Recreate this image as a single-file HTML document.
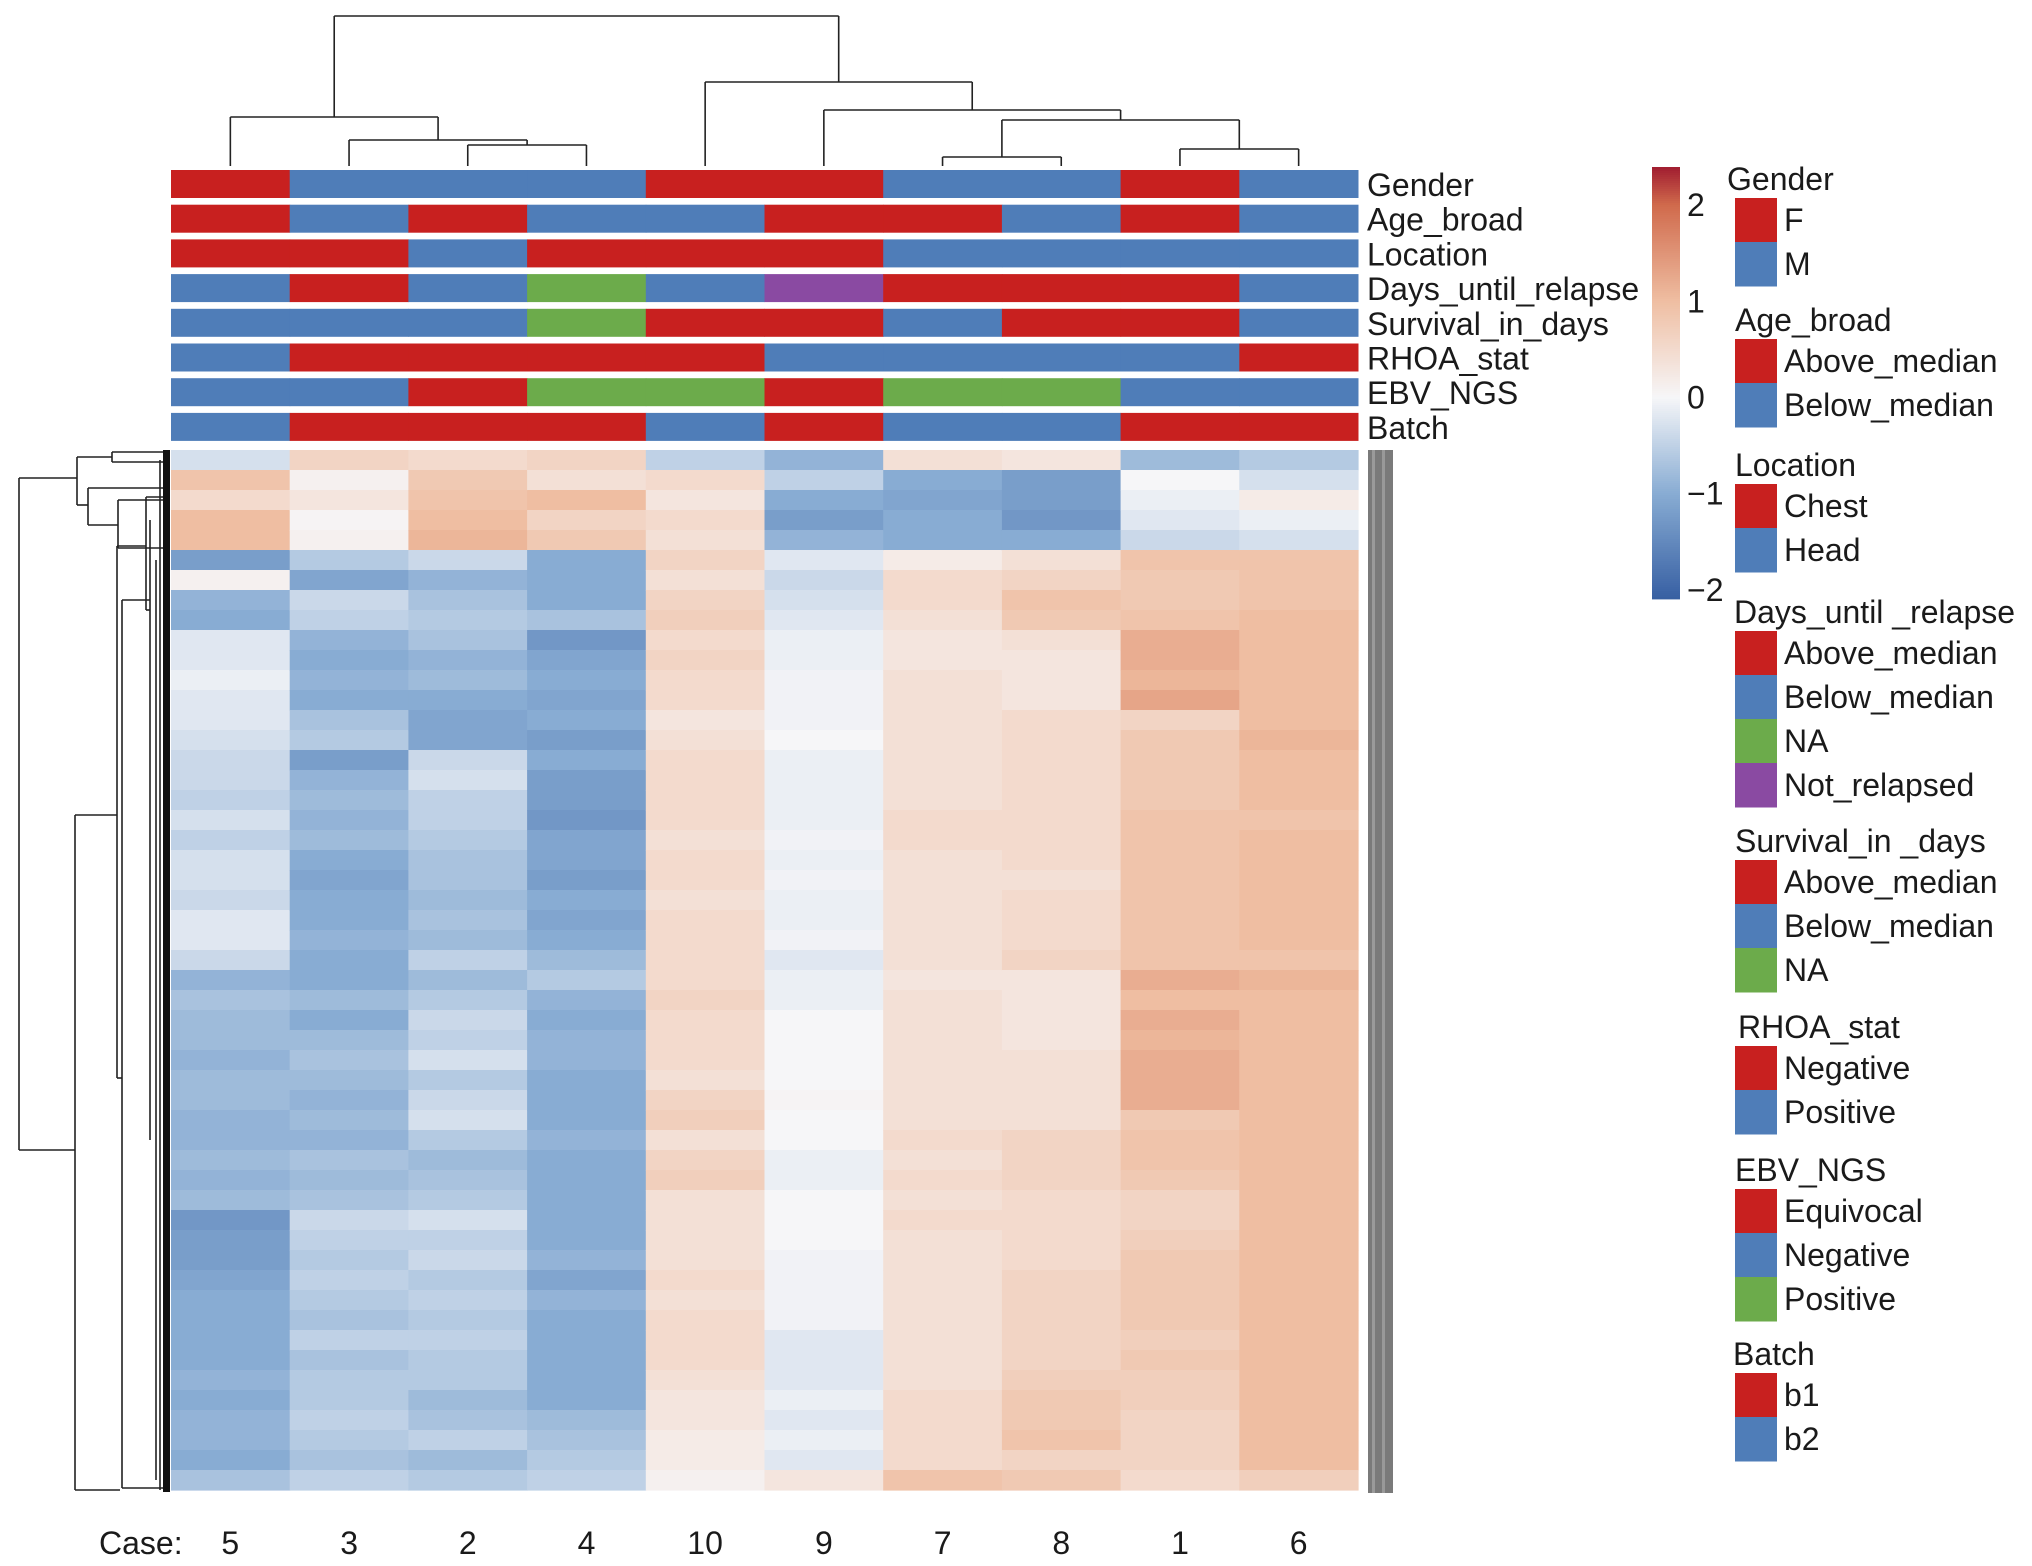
<!DOCTYPE html>
<html><head><meta charset="utf-8"><title>Clustered heatmap</title>
<style>
html,body{margin:0;padding:0;background:#fff;}
svg{display:block;}
text{font-family:"Liberation Sans",Arial,sans-serif;fill:#1a1a1a;}
</style></head>
<body>
<svg id="chart" width="2032" height="1566" viewBox="0 0 2032 1566" xmlns="http://www.w3.org/2000/svg">
<rect width="2032" height="1566" fill="#fff"/>
<g id="top-dendro"></g>
<g id="row-dendro"></g>
<g id="annot"></g>
<g id="heat"></g>
<g id="rowstrip"></g>
<g id="xlabels"></g>
<g id="cbar"></g>
<g id="legend"></g>
</svg>
<script>
// ---------- data ----------
const cases = ["5","3","2","4","10","9","7","8","1","6"];
const annotNames = ["Gender","Age_broad","Location","Days_until_relapse","Survival_in_days","RHOA_stat","EBV_NGS","Batch"];
const annGender   = ["R","B","B","B","R","R","B","B","R","B"];
const annAge      = ["R","B","R","B","B","R","R","B","R","B"];
const annLocation = ["R","R","B","R","R","R","B","B","B","B"];
const annDays     = ["B","R","B","G","B","P","R","R","R","B"];
const annSurvival = ["B","B","B","G","R","R","B","R","R","B"];
const annRhoa     = ["B","R","R","R","R","B","B","B","B","R"];
const annEbv      = ["B","B","R","G","G","R","G","G","B","B"];
const annBatch    = ["B","R","R","R","B","R","B","B","R","R"];
// expression values: one array per case (row blocks top to bottom)
const v5  = [-0.3,0.9,0.5,1.0,1.0,-1.2,0.1,-0.9,-1.0,-0.2,-0.2,-0.1,-0.2,-0.2,-0.3,-0.4,-0.4,-0.5,-0.3,-0.5,-0.3,-0.3,-0.4,-0.2,-0.2,-0.4,-0.9,-0.7,-0.8,-0.8,-0.9,-0.8,-0.8,-0.9,-0.9,-0.8,-0.9,-0.8,-1.3,-1.2,-1.2,-1.1,-1.0,-1.0,-1.0,-1.0,-0.9,-1.0,-0.9,-0.9,-1.0,-0.7];
const v3  = [0.6,0.1,0.3,0.05,0.1,-0.6,-1.1,-0.4,-0.5,-0.9,-1.0,-0.9,-1.0,-0.7,-0.6,-1.2,-0.9,-0.8,-0.9,-0.8,-1.0,-1.1,-1.0,-1.0,-0.9,-1.0,-1.0,-0.8,-1.0,-0.8,-0.7,-0.8,-0.9,-0.8,-0.9,-0.7,-0.8,-0.7,-0.4,-0.5,-0.6,-0.5,-0.6,-0.7,-0.5,-0.7,-0.6,-0.6,-0.5,-0.6,-0.7,-0.5];
const v2  = [0.5,0.8,0.9,1.0,1.1,-0.4,-0.9,-0.7,-0.6,-0.7,-0.9,-0.8,-1.0,-1.1,-1.1,-0.4,-0.3,-0.5,-0.5,-0.6,-0.7,-0.7,-0.8,-0.7,-0.8,-0.5,-0.8,-0.6,-0.4,-0.5,-0.3,-0.6,-0.4,-0.3,-0.6,-0.8,-0.7,-0.6,-0.3,-0.5,-0.4,-0.6,-0.5,-0.6,-0.5,-0.6,-0.6,-0.8,-0.7,-0.5,-0.8,-0.6];
const v4  = [0.6,0.4,1.0,0.6,0.8,-1.0,-1.0,-1.0,-0.7,-1.3,-1.1,-1.0,-1.1,-1.0,-1.2,-1.0,-1.2,-1.2,-1.3,-1.1,-1.1,-1.2,-1.0,-1.1,-1.0,-0.8,-0.6,-0.9,-1.0,-0.9,-0.9,-1.0,-1.0,-1.0,-0.9,-1.0,-1.0,-1.0,-1.0,-1.0,-0.9,-1.1,-0.9,-1.0,-1.0,-1.0,-1.0,-1.0,-0.8,-0.7,-0.6,-0.5];
const v10 = [-0.5,0.5,0.3,0.5,0.4,0.6,0.4,0.6,0.7,0.5,0.6,0.5,0.5,0.3,0.4,0.5,0.5,0.5,0.5,0.4,0.5,0.5,0.4,0.5,0.5,0.5,0.5,0.6,0.5,0.5,0.5,0.4,0.6,0.7,0.4,0.6,0.7,0.4,0.4,0.4,0.4,0.5,0.4,0.5,0.5,0.5,0.4,0.3,0.3,0.2,0.2,0.1];
const v9  = [-0.9,-0.5,-1.0,-1.2,-0.9,-0.2,-0.4,-0.3,-0.2,-0.1,-0.1,-0.05,-0.05,-0.05,0.0,-0.1,-0.1,-0.1,-0.1,-0.05,-0.1,-0.05,-0.1,-0.1,-0.05,-0.2,-0.1,-0.1,0.0,0.0,0.0,0.0,0.05,0.0,0.0,-0.1,-0.1,0.0,0.0,0.0,-0.05,-0.05,-0.05,-0.05,-0.2,-0.2,-0.2,-0.1,-0.2,-0.1,-0.2,0.3];
const v7  = [0.4,-1.0,-1.1,-1.0,-1.0,0.2,0.5,0.5,0.4,0.3,0.3,0.4,0.4,0.4,0.4,0.4,0.4,0.4,0.5,0.5,0.4,0.4,0.4,0.4,0.4,0.4,0.3,0.4,0.4,0.4,0.4,0.4,0.4,0.4,0.5,0.4,0.5,0.4,0.5,0.4,0.4,0.4,0.4,0.4,0.4,0.4,0.4,0.5,0.5,0.5,0.5,0.9];
const v8  = [0.3,-1.2,-1.2,-1.3,-1.0,0.4,0.6,0.9,0.8,0.4,0.3,0.3,0.3,0.5,0.5,0.5,0.5,0.5,0.5,0.5,0.5,0.4,0.5,0.5,0.5,0.6,0.3,0.3,0.3,0.3,0.4,0.4,0.4,0.4,0.6,0.6,0.6,0.5,0.5,0.5,0.5,0.6,0.6,0.6,0.6,0.6,0.7,0.8,0.8,0.9,0.6,0.8];
const v1  = [-0.8,0.0,-0.1,-0.2,-0.4,0.9,0.8,0.8,0.9,1.2,1.2,1.1,1.3,0.6,0.8,0.8,0.8,0.8,0.9,0.9,0.9,0.9,0.9,0.9,0.9,0.9,1.2,1.0,1.2,1.1,1.2,1.2,1.2,0.8,0.9,0.9,0.8,0.6,0.6,0.7,0.8,0.8,0.8,0.8,0.7,0.8,0.7,0.7,0.6,0.6,0.6,0.5];
const v6  = [-0.6,-0.3,0.2,-0.1,-0.3,0.9,0.9,0.9,1.0,1.0,1.0,1.0,1.0,1.0,1.1,1.0,1.0,1.0,0.9,1.0,1.0,1.0,1.0,1.0,1.0,0.9,1.1,1.0,1.0,1.0,1.0,1.0,1.0,1.0,1.0,1.0,1.0,1.0,1.0,1.0,1.0,1.0,1.0,1.0,1.0,1.0,1.0,1.0,1.0,1.0,1.0,0.7];
// column dendrogram merge heights (distance units)
const mergeRoot = 150, mergeLeft = 49, mergeLeftInner = 26, merge24 = 21;
const mergeRight = 84, mergeRight2 = 56, merge7816 = 46, merge78 = 9, merge16 = 17;
// colour bar ticks
const cbTicks = [2,1,0,-1,-2];
const cbTickLabels = ["2","1","0","\u22121","\u22122"];

const legendGroups = ["Gender","Age_broad","Location","Days_until _relapse","Survival_in _days","RHOA_stat","EBV_NGS","Batch"];
const legendItems = [["F","M"],["Above_median","Below_median"],["Chest","Head"],["Above_median","Below_median","NA","Not_relapsed"],["Above_median","Below_median","NA"],["Negative","Positive"],["Equivocal","Negative","Positive"],["b1","b2"]];
const legendColors = [["R","B"],["R","B"],["R","B"],["R","B","G","P"],["R","B","G"],["R","B"],["R","B","G"],["R","B"]];

// ---------- helpers ----------
const NS="http://www.w3.org/2000/svg";
const COL={R:"#c8201f",B:"#4f7db8",G:"#6cab4b",P:"#8a4aa2"};
const FS=32;
function mk(tag,parent,attrs){const e=document.createElementNS(NS,tag);for(const k in attrs)e.setAttribute(k,attrs[k]);parent.appendChild(e);return e;}
const HX0=171,HX1=1358,HY0=450,HY1=1490;
const colW=(HX1-HX0)/cases.length;
function xCol(i){return HX0+i*colW;}
function xMid(i){return HX0+(i+0.5)*colW;}
const stops=[[-2.1,[55,95,160]],[-2,[62,102,167]],[-1,[136,172,211]],[0,[246,246,248]],[1,[239,190,162]],[2,[208,106,76]],[2.4,[160,28,48]]];
function color(v){
  if(v<=stops[0][0])return "rgb("+stops[0][1].join(",")+")";
  for(let i=1;i<stops.length;i++){if(v<=stops[i][0]){const a=stops[i-1],b=stops[i];const t=(v-a[0])/(b[0]-a[0]);
    return "rgb("+[0,1,2].map(k=>Math.round(a[1][k]+t*(b[1][k]-a[1][k]))).join(",")+")";}}
  return "rgb("+stops[stops.length-1][1].join(",")+")";
}

// ---------- heatmap ----------
const heat=document.getElementById("heat");
const cols=[v5,v3,v2,v4,v10,v9,v7,v8,v1,v6];
const nRows=v5.length, rowH=(HY1-HY0)/nRows;
cols.forEach((arr,ci)=>{
  arr.forEach((v,ri)=>{
    const r=mk("rect",heat,{x:xCol(ci).toFixed(2),y:(HY0+ri*rowH).toFixed(2),width:(colW+0.6).toFixed(2),height:(rowH+0.6).toFixed(2),fill:color(v)});
    
    
  });
});

// ---------- annotation tracks ----------
const annot=document.getElementById("annot");
const annRows=[annGender,annAge,annLocation,annDays,annSurvival,annRhoa,annEbv,annBatch];
const AY0=170,AStep=34.7,AH=28;
annRows.forEach((row,ri)=>{
  const y=AY0+ri*AStep;
  row.forEach((c,ci)=>{
    const r=mk("rect",annot,{x:xCol(ci).toFixed(2),y:y.toFixed(2),width:(colW+0.5).toFixed(2),height:AH,fill:COL[c]});
    
    
  });
  const t=mk("text",annot,{x:1367,y:(y+AH-2).toFixed(1),"font-size":FS});
  t.textContent=annotNames[ri];
  
  
});

// ---------- column dendrogram ----------
const td=document.getElementById("top-dendro");
const leafY=166;
function hy(h){return leafY-h;}
function seg(p,x1,y1,x2,y2){mk("line",p,{x1,y1,x2,y2,stroke:"#222","stroke-width":1.6});}
function join(p,xa,ya,xb,yb,h){const y=hy(h);seg(p,xa,ya,xa,y);seg(p,xb,yb,xb,y);seg(p,xa,y,xb,y);return [(xa+xb)/2,y];}
const n24=join(td,xMid(2),leafY,xMid(3),leafY,merge24);
const n324=join(td,xMid(1),leafY,n24[0],n24[1],mergeLeftInner);
const nL=join(td,xMid(0),leafY,n324[0],n324[1],mergeLeft);
const n78=join(td,xMid(6),leafY,xMid(7),leafY,merge78);
const n16=join(td,xMid(8),leafY,xMid(9),leafY,merge16);
const n7816=join(td,n78[0],n78[1],n16[0],n16[1],merge7816);
const nR2=join(td,xMid(5),leafY,n7816[0],n7816[1],mergeRight2);
const nR=join(td,xMid(4),leafY,nR2[0],nR2[1],mergeRight);
join(td,nL[0],nL[1],nR[0],nR[1],mergeRoot);

// ---------- row dendrogram (structure) ----------
const rd=document.getElementById("row-dendro");
function hseg(y,x1,x2){seg(rd,x1,y,x2,y);}
function vseg(x,y1,y2){seg(rd,x,y1,x,y2);}
vseg(19,478,1150); hseg(478,19,77); hseg(1150,19,75);
vseg(77,457,505); hseg(457,77,112); hseg(505,77,88);
vseg(112,452,462); hseg(452,112,168); hseg(462,112,168);
vseg(88,488,525); hseg(488,88,168); hseg(525,88,118);
vseg(118,500,548); hseg(500,118,168); hseg(548,118,168);
vseg(75,815,1490); hseg(815,75,117); hseg(1490,75,120);
vseg(117,546,1078); hseg(546,117,146); hseg(1078,117,122);
vseg(146,497,610); hseg(497,146,168); hseg(610,146,150);
vseg(122,600,1488); hseg(600,122,150); hseg(1488,122,168);
vseg(150,520,1140); vseg(156,560,1480); vseg(160,460,1490);
const dense=mk("rect",rd,{x:163,y:450,width:7,height:1042,fill:"#111"});



// ---------- right row strip ----------
const rs=document.getElementById("rowstrip");
const strip=mk("rect",rs,{x:1368,y:450,width:25,height:1043,fill:"#7a7a7a"});


mk("rect",rs,{x:1372,y:450,width:3,height:1043,fill:"#9a9a9a"});
mk("rect",rs,{x:1382,y:450,width:3,height:1043,fill:"#999"});

// ---------- case labels ----------
const xl=document.getElementById("xlabels");
const cl=mk("text",xl,{x:99,y:1554,"font-size":FS});
cl.textContent="Case:";


cases.forEach((c,i)=>{
  const t=mk("text",xl,{x:xMid(i).toFixed(1),y:1554,"font-size":FS,"text-anchor":"middle"});
  t.textContent=c;
  
  
});

// ---------- colour bar ----------
const cb=document.getElementById("cbar");
const CBY0=167,CBY1=598,CBX=1652,CBW=28;
const cbPerUnit=96.2, cbZeroY=397.5;
function cbY(v){return cbZeroY-v*cbPerUnit;}
for(let y=CBY0;y<CBY1;y+=2){
  const v=(cbZeroY-(y+1))/cbPerUnit;
  mk("rect",cb,{x:CBX,y:y,width:CBW,height:2.4,fill:color(v)});
}
cbTicks.forEach((v,i)=>{
  const t=mk("text",cb,{x:1687,y:(cbY(v)+11).toFixed(1),"font-size":FS});
  t.textContent=cbTickLabels[i];
  
  
});

// ---------- legend ----------
const lg=document.getElementById("legend");
const titleY=[190,331,476,623,852,1038,1181,1365];
const titleX=[1727,1735,1735,1734,1735,1738,1735,1733];
const itemH=44;
legendGroups.forEach((g,gi)=>{
  const t=mk("text",lg,{x:titleX[gi],y:titleY[gi],"font-size":FS});
  t.textContent=g;
  
  
  legendItems[gi].forEach((it,ii)=>{
    const cy=titleY[gi]+30+ii*itemH;
    const r=mk("rect",lg,{x:1735,y:cy-itemH/2,width:42,height:itemH+0.5,fill:COL[legendColors[gi][ii]]});
    
    
    const tt=mk("text",lg,{x:1784,y:cy+11,"font-size":FS});
    tt.textContent=it;
    
    
  });
});
</script>
</body></html>
